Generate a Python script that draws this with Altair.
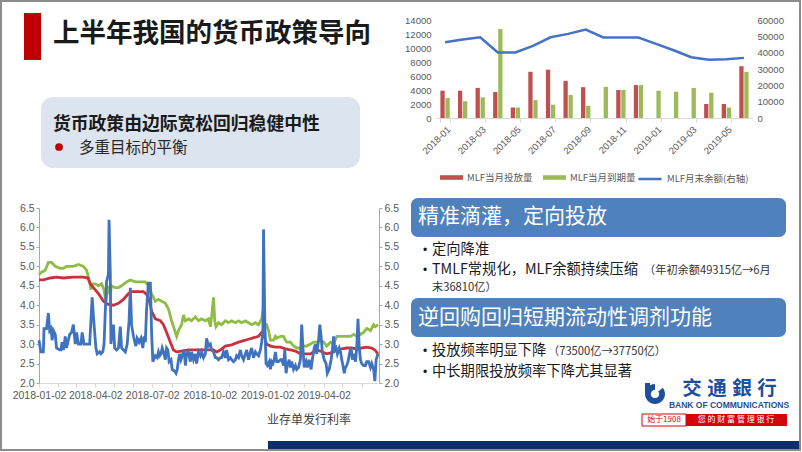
import altair as alt
import pandas as pd

CJK = "Noto Sans CJK SC"
LAT = "Liberation Sans"
GRAY = "#595959"

# ---------------- top-right chart: MLF ----------------
months = ["2018-01", "2018-02", "2018-03", "2018-04", "2018-05", "2018-06",
          "2018-07", "2018-08", "2018-09", "2018-10", "2018-11", "2018-12",
          "2019-01", "2019-02", "2019-03", "2019-04", "2019-05", "2019-06"]
month_ticks = ["2018-01", "2018-03", "2018-05", "2018-07", "2018-09",
               "2018-11", "2019-01", "2019-03", "2019-05"]
mlf_issue = [3900, 3900, 4300, 3700, 1500, 6600, 6900, 5300, 4400, 0, 4000, 4700,
             0, 0, 0, 2000, 2000, 7400]
mlf_mature = [2850, 2400, 2950, 12700, 1500, 2550, 1900, 3300, 1750, 4450, 4000, 4700,
              3900, 3750, 4300, 3600, 1500, 6600]
mlf_balance = [46400, 48000, 49400, 40100, 40100, 44100, 49400, 51500, 54100, 49300,
               49300, 49315, 45400, 41500, 37200, 35600, 36000, 36810]
bar_series = ["MLF当月投放量", "MLF当月到期量"]
line_series = ["MLF月末余额(右轴)"]

# ---------------- bottom-left chart: rates (day offset from 2018-01-02, %) ----------------
blue_pts = [(0,3.1),(3,2.8),(7,2.8),(8,3.4),(12,3.4),(15,3.8),(17,3.35),(19,3.4),(21,3.1),(23,3.35),
    (26,3.25),(28,2.9),(33,2.85),(35,2.85),(37,3.05),(39,2.85),(42,3.2),(44,2.9),(49,3.25),(52,3.3),
    (55,3.5),(58,3.0),(60,3.3),(63,3.0),(67,3.0),(69,3.3),(72,3.0),(76,3.0),(81,3.0),(83,3.6),
    (85,4.2),(88,3.5),(91,2.9),(93,2.75),(97,2.8),(99,2.75),(102,2.8),(104,3.0),(106,3.85),(108,4.6),
    (111,4.8),(112,6.2),(114,4.8),(115,3.0),(117,3.3),(119,3.5),(121,2.9),(124,2.85),(127,2.9),(130,3.45),
    (132,2.9),(135,2.85),(138,2.8),(141,3.0),(144,3.6),(146,4.45),(148,3.5),(151,3.2),(154,3.0),(155,2.95),
    (157,3.15),(160,3.05),(163,3.15),(166,2.9),(168,3.2),(170,3.05),(172,3.9),(175,4.6),(177,4.4),(178,4.6),
    (180,3.3),(182,2.55),(186,2.7),(189,2.65),(191,2.8),(193,2.7),(195,2.75),(197,2.9),(200,2.75),(202,2.6),
    (204,2.9),(206,2.85),(208,2.55),(211,2.6),(213,2.35),(217,2.3),(219,2.25),(221,2.35),(223,2.6),(225,2.75),
    (227,2.6),(229,2.7),(232,2.85),(234,2.45),(236,2.75),(239,2.8),(242,2.55),(244,2.8),(247,2.6),(250,2.75),
    (252,2.5),(255,2.8),(258,2.7),(260,2.8),(263,2.65),(266,2.75),(268,3.15),(271,2.95),(274,3.0),(276,2.85),
    (279,2.8),(282,2.65),(284,2.65),(287,2.6),(290,2.65),(292,2.65),(295,2.8),(298,2.65),(300,2.85),(303,2.6),
    (306,2.65),(308,2.6),(311,2.55),(314,2.6),(316,2.7),(319,2.65),(322,2.85),(324,2.7),(327,2.6),(330,2.75),
    (332,2.85),(335,2.6),(338,2.8),(340,2.9),(343,2.65),(346,2.8),(348,2.75),(351,2.7),(354,2.85),(356,3.05),
    (358,3.4),(359,5.95),(361,3.6),(363,2.5),(365,2.45),(368,2.55),(370,2.35),(372,2.55),(374,2.5),(376,2.6),
    (378,2.8),(380,2.55),(383,2.55),(386,2.6),(388,2.6),(391,2.45),(393,2.85),(395,2.25),(397,2.45),(400,2.6),
    (402,2.4),(404,2.55),(407,2.35),(410,2.45),(412,2.35),(415,2.4),(418,2.6),(420,3.5),(422,2.9),(424,2.4),
    (427,2.55),(429,2.4),(432,2.6),(435,2.35),(437,2.6),(440,2.9),(442,3.0),(444,2.75),(447,3.1),(449,3.5),
    (451,3.2),(453,2.8),(456,2.6),(459,2.5),(461,2.25),(464,2.35),(467,2.6),(469,2.85),(471,3.2),(473,2.85),
    (475,2.9),(477,2.75),(480,2.9),(482,2.8),(484,2.6),(486,2.45),(488,2.25),(490,2.4),(492,2.45),(494,2.55),
    (497,2.8),(499,2.9),(501,2.6),(503,2.75),(506,2.55),(508,2.9),(510,3.65),(512,2.9),(514,2.6),(516,2.5),
    (519,2.45),(522,2.45),(524,2.55),(527,2.55),(530,2.4),(532,2.5),(535,2.35),(537,2.05),(539,2.6),(541,2.7),
    (542,2.75)]
green_pts = [(0,4.78),(4,4.85),(10,4.9),(15,5.1),(20,5.1),(26,5.0),(34,4.95),(39,4.95),(44,5.0),(50,5.0),
    (55,5.0),(63,5.05),(71,5.0),(76,4.9),(81,4.6),(83,4.4),(86,4.55),(90,4.55),(95,4.5),(100,4.55),
    (104,4.4),(107,4.1),(111,4.5),(114,4.3),(116,4.5),(122,4.45),(127,4.45),(132,4.5),(140,4.6),(146,4.65),
    (154,4.6),(162,4.6),(170,4.6),(175,4.5),(180,4.3),(186,4.1),(191,4.15),(196,4.1),(202,4.05),(207,3.9),
    (212,3.6),(218,3.3),(220,3.2),(223,3.35),(228,3.5),(231,3.75),(234,3.6),(239,3.65),(244,3.6),(250,3.7),
    (255,3.6),(260,3.65),(266,3.6),(271,3.65),(274,3.45),(276,3.7),(279,4.2),(281,3.6),(283,3.45),(287,3.55),
    (292,3.5),(298,3.6),(303,3.55),(308,3.6),(314,3.55),(319,3.6),(324,3.55),(330,3.6),(335,3.55),(340,3.5),
    (346,3.55),(351,3.5),(356,3.65),(358,3.85),(360,3.5),(364,3.5),(367,3.35),(370,3.1),(375,3.1),(378,3.2),
    (380,3.15),(386,3.2),(391,3.2),(394,3.1),(396,3.05),(402,3.05),(407,2.95),(412,2.9),(418,2.9),(423,2.95),
    (428,2.95),(434,3.0),(439,3.05),(444,3.05),(450,3.1),(455,3.05),(460,2.95),(466,3.05),(471,3.0),(476,3.2),
    (482,3.2),(487,3.2),(492,3.2),(498,3.2),(503,3.25),(508,3.2),(511,3.3),(514,3.25),(519,3.3),(524,3.4),
    (530,3.35),(535,3.5),(538,3.45),(542,3.5)]
red_pts = [(0,4.65),(7,4.65),(18,4.7),(28,4.72),(39,4.7),(55,4.72),(71,4.72),(78,4.7),(82,4.55),(87,4.45),
    (95,4.3),(103,4.1),(111,4.02),(119,4.0),(127,4.05),(135,4.15),(143,4.3),(148,4.35),(156,4.35),(167,4.35),
    (172,4.28),(176,4.15),(180,3.85),(186,3.65),(194,3.6),(199,3.5),(204,3.3),(210,3.05),(215,2.85),(220,2.8),
    (228,2.82),(239,2.85),(250,2.85),(260,2.85),(271,2.85),(279,2.85),(284,2.8),(290,2.85),(298,2.95),(308,2.98),
    (319,3.05),(330,3.1),(340,3.15),(351,3.2),(356,3.3),(358,3.3),(360,3.2),(364,3.0),(370,2.95),(378,2.92),
    (386,2.92),(394,2.88),(402,2.85),(410,2.82),(418,2.75),(426,2.75),(434,2.75),(439,2.8),(444,2.85),(450,2.82),
    (455,2.78),(460,2.75),(468,2.78),(476,2.85),(484,2.88),(492,2.9),(500,2.9),(508,2.88),(516,2.9),(524,2.92),
    (532,2.9),(537,2.85),(542,2.75)]
rate_ticks = [2.0, 2.5, 3.0, 3.5, 4.0, 4.5, 5.0, 5.5, 6.0, 6.5]
date_start, date_end = "2018-01-02", "2019-06-28"
month_starts = ["2018-01-02", "2018-02-02", "2018-03-02", "2018-04-02", "2018-05-02", "2018-06-02",
                "2018-07-02", "2018-08-02", "2018-09-02", "2018-10-02", "2018-11-02", "2018-12-02",
                "2019-01-02", "2019-02-02", "2019-03-02", "2019-04-02", "2019-05-02", "2019-06-02"]


def ms(s):
    return int(pd.Timestamp(s, tz="UTC").value // 10**6)


def pts_df(pts):
    days = [p[0] for p in pts]
    vals = [p[1] for p in pts]
    dates = (pd.Timestamp(date_start) + pd.to_timedelta(days, unit="D")).strftime("%Y-%m-%d").tolist()
    return pd.DataFrame({"date": dates, "rate": vals})


one = pd.DataFrame({"k": [0]})


def T(s, x, y, size, color="#1a1a1a", weight="normal", align="left", font=CJK):
    return alt.Chart(one).mark_text(fontSize=size, color=color, fontWeight=weight, align=align,
                                    baseline="middle", font=font).encode(
        x=alt.value(x), y=alt.value(y), text=alt.value(s))


def R(x, x2, y, y2, fill, radius=0):
    return alt.Chart(one).mark_rect(fill=fill, cornerRadius=radius).encode(
        x=alt.value(x), x2=alt.value(x2), y=alt.value(y), y2=alt.value(y2))


def bullet(y):
    return T("•", 425, y, 12, align="center", font=LAT)


layers = []

# ---- slide decorations ----
layers.append(R(24, 41, 13, 60, "#c00000"))
layers.append(T("上半年我国的货币政策导向", 53, 34, 26.5, weight="bold"))
layers.append(R(41, 360, 97, 168, "#dce4ef", 12))
layers.append(T("货币政策由边际宽松回归稳健中性", 53, 125, 17.8, weight="bold"))
layers.append(alt.Chart(one).mark_circle(size=60, color="#c00000", opacity=1).encode(
    x=alt.value(59), y=alt.value(147)))
layers.append(T("多重目标的平衡", 79, 148, 15.5, color="#262626"))

BLUE_BOX = "#4f81bd"
layers.append(R(411, 786, 198, 237, BLUE_BOX, 7))
layers.append(T("精准滴灌，定向投放", 418, 217, 21, color="white"))
layers.append(bullet(250))
layers.append(T("定向降准", 432, 250, 14.3))
layers.append(bullet(270))
layers.append(T("TMLF常规化，MLF余额持续压缩", 432, 270, 14.3))
layers.append(T("（年初余额49315亿→6月", 644, 271, 11.2, color="#333333"))
layers.append(T("末36810亿）", 432, 288, 11.2, color="#333333"))
layers.append(R(411, 786, 298, 337, BLUE_BOX, 7))
layers.append(T("逆回购回归短期流动性调剂功能", 418, 318, 21, color="white"))
layers.append(bullet(351))
layers.append(T("投放频率明显下降", 432, 351, 14.3))
layers.append(T("（73500亿→37750亿）", 548, 352, 11.2, color="#333333"))
layers.append(bullet(372))
layers.append(T("中长期限投放频率下降尤其显著", 432, 372, 14.3))

# ---- logo ----
LOGO_BLUE = "#1d4f9c"
layers.append(alt.Chart(one).mark_arc(color=LOGO_BLUE, radius=10, radius2=4.2, theta=0.9, theta2=6.28).encode(
    x=alt.value(655), y=alt.value(394)))
layers.append(R(645, 650, 383, 394, LOGO_BLUE))
for ch, cx in zip(["交", "通", "銀", "行"], [692, 717, 742, 767]):
    layers.append(T(ch, cx, 389, 19.5, color=LOGO_BLUE, weight="bold", align="center"))
layers.append(T("BANK OF COMMUNICATIONS", 729, 405, 8.5, color=LOGO_BLUE, weight="bold", align="center", font=LAT))
layers.append(alt.Chart(one).mark_rect(fill="white", stroke="#d7000f", strokeWidth=1).encode(
    x=alt.value(642), x2=alt.value(686), y=alt.value(414), y2=alt.value(426)))
layers.append(R(686, 787, 414, 426, "#d7000f"))
layers.append(T("始于1908", 664, 420, 8, color="#d7000f", align="center"))
layers.append(T("您 的 财 富 管 理 银 行", 736, 420, 8, color="white", align="center"))

# bottom navy strip and caption
layers.append(R(268, 800, 441, 450, "#0d2d6c"))
layers.append(T("业存单发行利率", 267, 420, 12, color="#404040"))

# ---- top-right MLF chart ----
bar_df = pd.DataFrame({
    "month": months * 2,
    "series": [bar_series[0]] * len(months) + [bar_series[1]] * len(months),
    "value": mlf_issue + mlf_mature,
})
line_df = pd.DataFrame({"month": months, "balance": mlf_balance,
                        "series": line_series * len(months)})

bars = alt.Chart(bar_df).mark_bar().encode(
    x=alt.X("month:N", sort=months,
            scale=alt.Scale(domain=months, range=[436, 753], paddingInner=0.47, paddingOuter=0.25),
            axis=alt.Axis(orient="bottom", offset=118 - 452, values=month_ticks, labelAngle=-45,
                          labelFont=LAT, labelFontSize=9.5, labelColor=GRAY, labelPadding=2,
                          domainColor="#d9d9d9", tickColor="#d9d9d9", tickSize=4, tickBand="extent",
                          grid=False, title=None)),
    xOffset=alt.XOffset("series:N", scale=alt.Scale(domain=bar_series, paddingInner=0.15)),
    y=alt.Y("value:Q", scale=alt.Scale(domain=[0, 14000], range=[118, 20], nice=False),
            axis=alt.Axis(orient="left", offset=-435, values=list(range(0, 14001, 2000)), format="d",
                          domain=False, ticks=False, grid=False, labelFont=LAT, labelFontSize=9.5,
                          labelColor=GRAY, labelPadding=4, title=None)),
    fill=alt.Fill("series:N", scale=alt.Scale(domain=bar_series, range=["#c0504d", "#9bbb59"]),
                  legend=alt.Legend(orient="none", legendX=440, legendY=166, direction="horizontal",
                                    title=None, symbolType="M-1,-0.2H1V0.2H-1Z", symbolSize=529,
                                    symbolStrokeWidth=0, labelFont=CJK, labelFontSize=9.5,
                                    labelColor=GRAY, labelOffset=4, columnPadding=10, padding=0)),
)

mlf_line = alt.Chart(line_df).mark_line(strokeWidth=2.5).encode(
    x=alt.X("month:N", sort=months,
            scale=alt.Scale(type="point", domain=months, range=[436, 753], padding=0.515), axis=None),
    y=alt.Y("balance:Q", scale=alt.Scale(domain=[0, 60000], range=[118, 20], nice=False),
            axis=alt.Axis(orient="right", offset=753 - 802, values=list(range(0, 60001, 10000)), format="d",
                          domain=False, ticks=False, grid=False, labelFont=LAT, labelFontSize=9.5,
                          labelColor=GRAY, labelPadding=4, title=None)),
    stroke=alt.Stroke("series:N", scale=alt.Scale(domain=line_series, range=["#4472c4"]),
                      legend=alt.Legend(orient="none", legendX=637, legendY=166, direction="horizontal",
                                        title=None, symbolType="stroke", symbolSize=529,
                                        symbolStrokeWidth=2.5, labelFont=CJK, labelFontSize=9.5,
                                        labelColor=GRAY, labelOffset=4, padding=0)),
)
layers += [bars, mlf_line]

# ---- bottom-left rates chart ----
x_time = alt.Scale(type="utc", domain=[ms(date_start), ms(date_end)], range=[39, 378])
y_rate = alt.Scale(domain=[2.0, 6.5], range=[383, 208], nice=False, zero=False)
AX_BLUE = "#8eaadb"
LW = 2.8

red_line = alt.Chart(pts_df(red_pts)).mark_line(color="#c8323a", strokeWidth=LW).encode(
    x=alt.X("date:T", scale=x_time,
            axis=alt.Axis(orient="bottom", offset=383 - 452, values=[ms(d) for d in month_starts],
                          labelExpr="utcmonth(datum.value) % 3 == 0 ? utcFormat(datum.value, '%Y-%m-%d') : ''",
                          labelOverlap=False, labelFlush=False, labelFont=LAT, labelFontSize=10.5,
                          labelColor=GRAY, labelPadding=3, domainColor="#d9d9d9", tickColor="#d9d9d9",
                          tickSize=4, grid=False, title=None)),
    y=alt.Y("rate:Q", scale=y_rate,
            axis=alt.Axis(orient="left", offset=-39, values=rate_ticks, format=".1f",
                          domainColor=AX_BLUE, tickColor=AX_BLUE, tickSize=3, labelPadding=2,
                          labelFont=LAT, labelFontSize=10.5, labelColor=GRAY, grid=False, title=None)),
)
green_line = alt.Chart(pts_df(green_pts)).mark_line(color="#8fbc45", strokeWidth=LW).encode(
    x=alt.X("date:T", scale=x_time, axis=None),
    y=alt.Y("rate:Q", scale=y_rate, axis=None),
)
blue_line = alt.Chart(pts_df(blue_pts)).mark_line(color="#3f72bf", strokeWidth=LW).encode(
    x=alt.X("date:T", scale=x_time, axis=None),
    y=alt.Y("rate:Q", scale=y_rate,
            axis=alt.Axis(orient="right", offset=379 - 802, values=rate_ticks, format=".1f",
                          domainColor=AX_BLUE, tickColor=AX_BLUE, tickSize=3, labelPadding=2,
                          labelFont=LAT, labelFontSize=10.5, labelColor=GRAY, grid=False, title=None)),
)
layers += [green_line, red_line, blue_line]

# frame
layers.append(alt.Chart(one).mark_rect(fillOpacity=0, stroke="#8c8c8c", strokeWidth=2).encode(
    x=alt.value(1), x2=alt.value(800), y=alt.value(1), y2=alt.value(450)))

chart = alt.layer(*layers).resolve_scale(
    x="independent", y="independent", fill="independent", stroke="independent", xOffset="independent"
).properties(
    width=802, height=452, padding=0, background="white",
    autosize=alt.AutoSizeParams(type="none"),
).configure_view(stroke=None)

chart.save("out.html", embed_options={"renderer": "svg", "actions": False})
